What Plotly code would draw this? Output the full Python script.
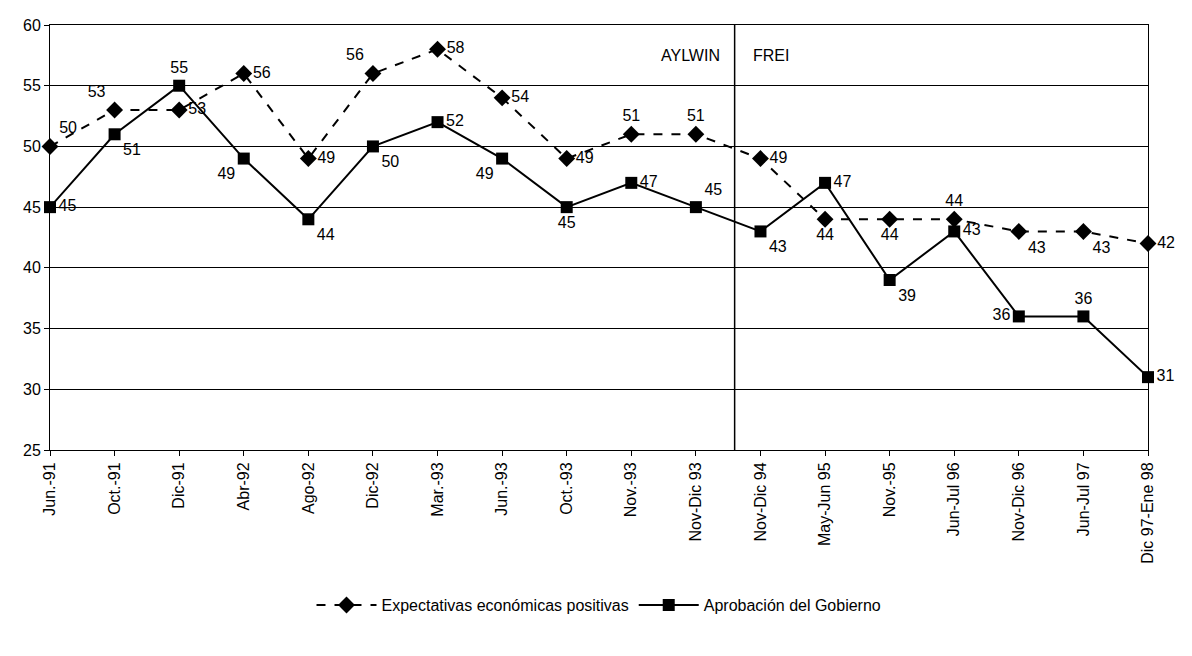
import plotly.graph_objects as go

cats = ["Jun.-91","Oct.-91","Dic-91","Abr-92","Ago-92","Dic-92","Mar.-93","Jun.-93","Oct.-93","Nov.-93",
        "Nov-Dic 93","Nov-Dic 94","May-Jun 95","Nov.-95","Jun-Jul 96","Nov-Dic 96","Jun-Jul 97","Dic 97-Ene 98"]
expect = [50,53,53,56,49,56,58,54,49,51,51,49,44,44,44,43,43,42]
aprob = [45,51,55,49,44,50,52,49,45,47,45,43,47,39,43,36,36,31]
pos_e = ["top right","top left","middle right","middle right","middle right","top left","middle right","middle right",
         "middle right","top center","top center","middle right","bottom center","bottom center","top center",
         "bottom right","bottom right","middle right"]
pos_a = ["middle right","bottom right","top center","bottom left","bottom right","bottom right","middle right","bottom left",
         "bottom center","middle right","top right","bottom right","middle right","bottom right","middle right",
         "middle left","top center","middle right"]
x = list(range(len(cats)))
font = dict(family="Liberation Sans, Arial", size=16, color="black")

fig = go.Figure()
fig.add_trace(go.Scatter(x=x, y=expect, mode="lines+markers+text", name="Expectativas económicas positivas",
    line=dict(color="black", width=2, dash="dash"), marker=dict(symbol="diamond", size=13, color="black"),
    text=[str(v) for v in expect], textposition=pos_e, textfont=font, cliponaxis=False))
fig.add_trace(go.Scatter(x=x, y=aprob, mode="lines+markers+text", name="Aprobación del Gobierno",
    line=dict(color="black", width=2), marker=dict(symbol="square", size=12, color="black"),
    text=[str(v) for v in aprob], textposition=pos_a, textfont=font, cliponaxis=False))
fig.add_shape(type="line", x0=10.6, x1=10.6, y0=25, y1=60, xref="x", yref="y", line=dict(color="black", width=1.5))
fig.add_annotation(x=10.4, y=57.5, text="AYLWIN", showarrow=False, xanchor="right", font=font)
fig.add_annotation(x=10.85, y=57.5, text="FREI", showarrow=False, xanchor="left", font=font)
fig.update_layout(width=1192, height=656, plot_bgcolor="white", paper_bgcolor="white",
    margin=dict(l=42, r=52, t=17, b=214), font=font, showlegend=True,
    legend=dict(orientation="h", x=0.5, xanchor="center", y=-0.325, yanchor="top", font=font, itemwidth=60))
fig.update_xaxes(range=[0, 17], tickvals=x, ticktext=cats, tickangle=-90, showgrid=False, automargin=False,
    showline=True, linecolor="black", mirror=True, ticks="outside", tickcolor="black", tickfont=font)
fig.update_yaxes(range=[25, 60], dtick=5, showgrid=True, gridcolor="black", gridwidth=1, automargin=False,
    showline=True, linecolor="black", mirror=True, ticks="outside", tickcolor="black", tickfont=font, zeroline=False)
fig.write_html("out.html")
